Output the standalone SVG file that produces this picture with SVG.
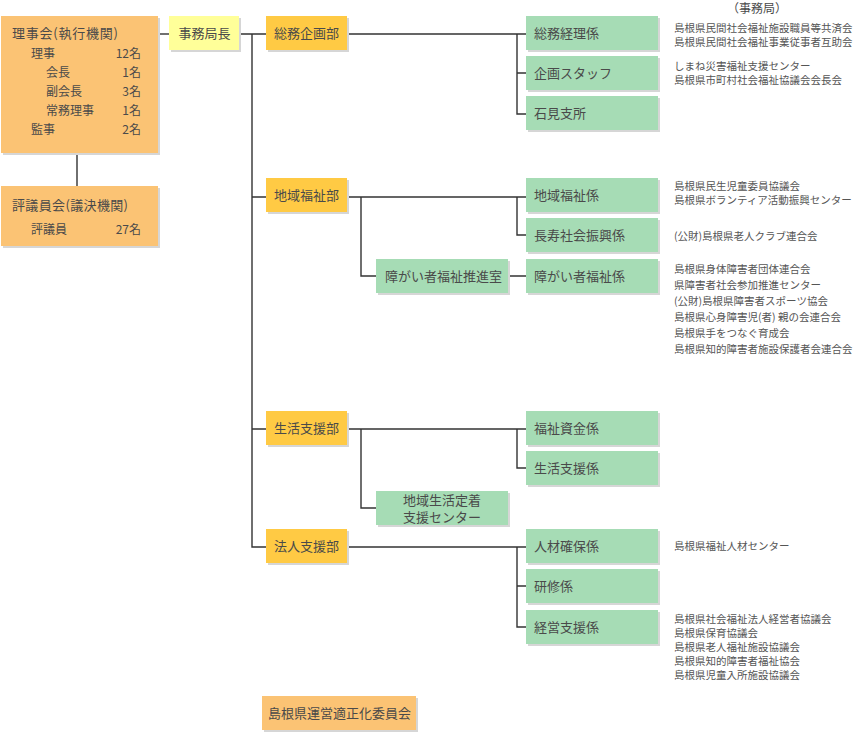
<svg xmlns="http://www.w3.org/2000/svg" width="861" height="733" viewBox="0 0 861 733">
<style>
.bg{fill:#ffffff}
.sh{fill:#d6d6d6}
.o{fill:#FBC374}
.y{fill:#FFFF99}
.d{fill:#FFCA44}
.g{fill:#A6DCB5}
text{font-family:"Noto Sans CJK JP","Noto Sans",sans-serif;fill:#4a4a4a}
.t{font-size:13px}
.r{font-size:12px}
.n{font-size:12px;text-anchor:end}
.s{font-size:10.5px;fill:#555555}
.c{text-anchor:middle}
.ln{stroke:#333333;stroke-width:1.4;fill:none}
</style>
<rect class="bg" x="0" y="0" width="861" height="733"/>

<g id="connectors">
<path class="ln" d="M158,34 H169"/>
<path class="ln" d="M77,153 V186"/>
<path class="ln" d="M239,34 H266 M252,34 V547 H266 M252,197 H266 M252,429 H266"/>
<path class="ln" d="M347,34 H526 M517,34 V114 H526 M517,73 H526"/>
<path class="ln" d="M347,197 H526 M517,197 V235 H526 M361,197 V276 H376 M508,276 H526"/>
<path class="ln" d="M347,429 H526 M517,429 V468 H526 M361,429 V508 H376"/>
<path class="ln" d="M347,547 H526 M517,547 V627 H526 M517,586 H526"/>
</g>

<g id="rijikai">
<rect class="sh" x="3" y="18" width="157" height="137"/>
<rect class="o" x="1" y="16" width="157" height="137"/>
<text class="t" x="12" y="38" textLength="106" lengthAdjust="spacing">理事会(執行機関)</text>
<text class="r" x="31" y="57.5">理事</text><text class="n" x="141" y="57.5">12名</text>
<text class="r" x="46" y="76.5">会長</text><text class="n" x="141" y="76.5">1名</text>
<text class="r" x="46" y="95.5">副会長</text><text class="n" x="141" y="95.5">3名</text>
<text class="r" x="46" y="114.5">常務理事</text><text class="n" x="141" y="114.5">1名</text>
<text class="r" x="31" y="133.5">監事</text><text class="n" x="141" y="133.5">2名</text>
</g>

<g id="hyogiinkai">
<rect class="sh" x="3" y="188" width="157" height="60"/>
<rect class="o" x="1" y="186" width="157" height="60"/>
<text class="t" x="12" y="209.5" textLength="116" lengthAdjust="spacing">評議員会(議決機関)</text>
<text class="r" x="31" y="233.5">評議員</text><text class="n" x="141" y="233.5">27名</text>
</g>

<g id="jimukyokucho">
<rect class="sh" x="171" y="18" width="70" height="34"/>
<rect class="y" x="169" y="16" width="70" height="34"/>
<text class="t c" x="204.5" y="37.5">事務局長</text>
</g>

<g id="jimukyoku-label">
<text class="c" x="757" y="13" style="font-size:12px">（事務局）</text>
</g>

<g id="somukikaku">
<rect class="sh" x="268" y="18" width="81" height="34"/>
<rect class="d" x="266" y="16" width="81" height="34"/>
<text class="t" x="274" y="37.5">総務企画部</text>
</g>
<g id="chiikifukushi">
<rect class="sh" x="268" y="180" width="81" height="34"/>
<rect class="d" x="266" y="178" width="81" height="34"/>
<text class="t" x="274" y="199.5">地域福祉部</text>
</g>
<g id="seikatsushien">
<rect class="sh" x="268" y="413" width="81" height="34"/>
<rect class="d" x="266" y="411" width="81" height="34"/>
<text class="t" x="274" y="432.5">生活支援部</text>
</g>
<g id="hojinshien">
<rect class="sh" x="268" y="531" width="81" height="34"/>
<rect class="d" x="266" y="529" width="81" height="34"/>
<text class="t" x="274" y="550.5">法人支援部</text>
</g>

<g id="shogaisuishin">
<rect class="sh" x="378" y="261" width="132" height="34"/>
<rect class="g" x="376" y="259" width="132" height="34"/>
<text class="t" x="385" y="280.5">障がい者福祉推進室</text>
</g>
<g id="teichakucenter">
<rect class="sh" x="378" y="493" width="132" height="34"/>
<rect class="g" x="376" y="491" width="132" height="34"/>
<text class="t c" x="442" y="505">地域生活定着</text>
<text class="t c" x="442" y="522">支援センター</text>
</g>

<g id="somukeiri">
<rect class="sh" x="528" y="18" width="132" height="34"/>
<rect class="g" x="526" y="16" width="132" height="34"/>
<text class="t" x="534" y="37.5">総務経理係</text>
</g>
<g id="kikakustaff">
<rect class="sh" x="528" y="58" width="132" height="34"/>
<rect class="g" x="526" y="56" width="132" height="34"/>
<text class="t" x="534" y="77.5">企画スタッフ</text>
</g>
<g id="iwamishisho">
<rect class="sh" x="528" y="98" width="132" height="34"/>
<rect class="g" x="526" y="96" width="132" height="34"/>
<text class="t" x="534" y="117.5">石見支所</text>
</g>
<g id="chiikifukushigakari">
<rect class="sh" x="528" y="180" width="132" height="34"/>
<rect class="g" x="526" y="178" width="132" height="34"/>
<text class="t" x="534" y="199.5">地域福祉係</text>
</g>
<g id="chojushakai">
<rect class="sh" x="528" y="220" width="132" height="34"/>
<rect class="g" x="526" y="218" width="132" height="34"/>
<text class="t" x="534" y="239.5">長寿社会振興係</text>
</g>
<g id="shogaifukushigakari">
<rect class="sh" x="528" y="261" width="132" height="34"/>
<rect class="g" x="526" y="259" width="132" height="34"/>
<text class="t" x="534" y="280.5">障がい者福祉係</text>
</g>
<g id="fukushishikin">
<rect class="sh" x="528" y="413" width="132" height="34"/>
<rect class="g" x="526" y="411" width="132" height="34"/>
<text class="t" x="534" y="432.5">福祉資金係</text>
</g>
<g id="seikatsushiengakari">
<rect class="sh" x="528" y="453" width="132" height="34"/>
<rect class="g" x="526" y="451" width="132" height="34"/>
<text class="t" x="534" y="472.5">生活支援係</text>
</g>
<g id="jinzaikakuho">
<rect class="sh" x="528" y="531" width="132" height="34"/>
<rect class="g" x="526" y="529" width="132" height="34"/>
<text class="t" x="534" y="550.5">人材確保係</text>
</g>
<g id="kenshu">
<rect class="sh" x="528" y="571" width="132" height="34"/>
<rect class="g" x="526" y="569" width="132" height="34"/>
<text class="t" x="534" y="590.5">研修係</text>
</g>
<g id="keieishien">
<rect class="sh" x="528" y="612" width="132" height="34"/>
<rect class="g" x="526" y="610" width="132" height="34"/>
<text class="t" x="534" y="631.5">経営支援係</text>
</g>

<g id="tekiseika">
<rect class="sh" x="264" y="698" width="154" height="34"/>
<rect class="o" x="262" y="696" width="154" height="34"/>
<text class="t" x="268" y="717.5">島根県運営適正化委員会</text>
</g>

<g id="list-somu">
<text class="s" x="674" y="31.7">島根県民間社会福祉施設職員等共済会</text>
<text class="s" x="674" y="45.7">島根県民間社会福祉事業従事者互助会</text>
<text class="s" x="674" y="70">しまね災害福祉支援センター</text>
<text class="s" x="674" y="84.2">島根県市町村社会福祉協議会会長会</text>
</g>
<g id="list-chiiki">
<text class="s" x="674" y="189.7">島根県民生児童委員協議会</text>
<text class="s" x="674" y="203.7">島根県ボランティア活動振興センター</text>
<text class="s" x="674" y="239.7">(公財)島根県老人クラブ連合会</text>
<text class="s" x="674" y="272.7">島根県身体障害者団体連合会</text>
<text class="s" x="674" y="288.7">県障害者社会参加推進センター</text>
<text class="s" x="674" y="304.7">(公財)島根県障害者スポーツ協会</text>
<text class="s" x="674" y="320.7">島根県心身障害児(者) 親の会連合会</text>
<text class="s" x="674" y="336.7">島根県手をつなぐ育成会</text>
<text class="s" x="674" y="352.7">島根県知的障害者施設保護者会連合会</text>
</g>
<g id="list-hojin">
<text class="s" x="674" y="549.7">島根県福祉人材センター</text>
<text class="s" x="674" y="622.7">島根県社会福祉法人経営者協議会</text>
<text class="s" x="674" y="636.7">島根県保育協議会</text>
<text class="s" x="674" y="650.7">島根県老人福祉施設協議会</text>
<text class="s" x="674" y="664.7">島根県知的障害者福祉協会</text>
<text class="s" x="674" y="678.7">島根県児童入所施設協議会</text>
</g>
</svg>
